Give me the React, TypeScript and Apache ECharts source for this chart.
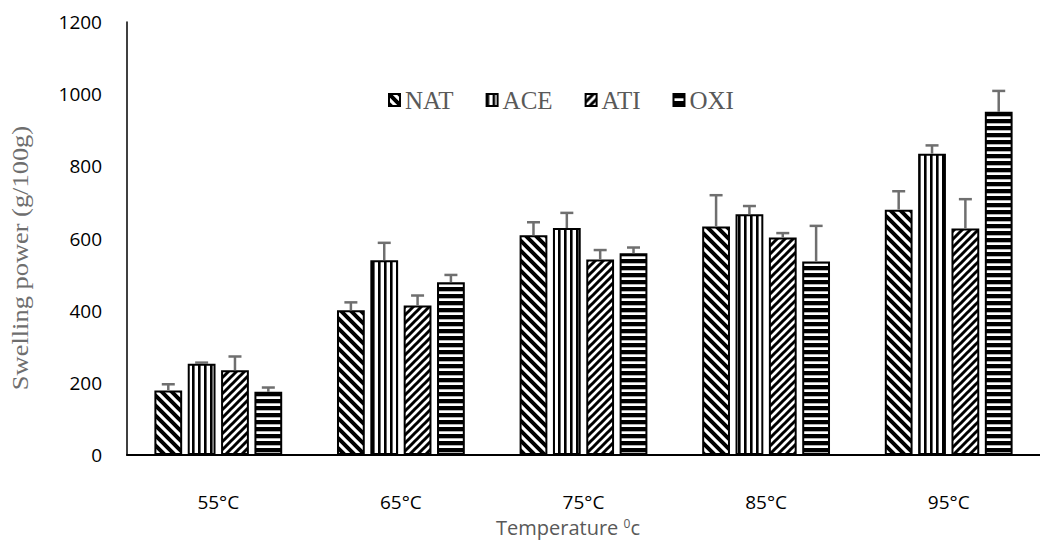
import React, { useEffect, useRef } from "react";
import * as echarts from "echarts";

const categories = ["55°C", "65°C", "75°C", "85°C", "95°C"];
const seriesNames = ["NAT", "ACE", "ATI", "OXI"];
const natValues = [179, 401, 609, 633, 680];
const aceValues = [253, 540, 629, 667, 835];
const atiValues = [235, 414, 542, 603, 628];
const oxiValues = [175, 479, 559, 536, 951];
const natErrors = [17, 22, 36, 87, 51];
const aceErrors = [3, 48, 42, 23, 23];
const atiErrors = [38, 28, 26, 12, 81];
const oxiErrors = [12, 20, 16, 99, 58];
const yTicks = { min: 0, max: 1200, interval: 200 };

type Kind = "back" | "vert" | "fwd" | "horiz";

function makePattern(kind: Kind) {
  const c = document.createElement("canvas");
  let w = 10;
  let h = 10;
  if (kind === "back") { w = 10; h = 10; }
  if (kind === "fwd") { w = 8; h = 8; }
  if (kind === "vert") { w = 6; h = 6; }
  if (kind === "horiz") { w = 7; h = 7; }
  c.width = w;
  c.height = h;
  const ctx = c.getContext("2d")!;
  ctx.fillStyle = "#fff";
  ctx.fillRect(0, 0, w, h);
  ctx.strokeStyle = "#000";
  ctx.fillStyle = "#000";
  if (kind === "back") {
    ctx.lineWidth = 4;
    ctx.beginPath();
    for (const off of [-w, 0, w]) {
      ctx.moveTo(off - 2, -2);
      ctx.lineTo(off + w + 2, h + 2);
    }
    ctx.stroke();
  } else if (kind === "fwd") {
    ctx.lineWidth = 3;
    ctx.beginPath();
    for (const off of [-w, 0, w]) {
      ctx.moveTo(off - 2, h + 2);
      ctx.lineTo(off + w + 2, -2);
    }
    ctx.stroke();
  } else if (kind === "vert") {
    ctx.fillRect(0, 0, 2.6, h);
  } else {
    ctx.fillRect(0, 0, w, 4.3);
  }
  return { image: c, repeat: "repeat" as const, imageWidth: w, imageHeight: h };
}

export default function App() {
  const ref = useRef<HTMLDivElement>(null);
  useEffect(() => {
    if (!ref.current) return;
    const chart = echarts.init(ref.current, null, { renderer: "svg" });
    const kinds: Kind[] = ["back", "vert", "fwd", "horiz"];
    const values = [natValues, aceValues, atiValues, oxiValues];
    const errors = [natErrors, aceErrors, atiErrors, oxiErrors];

    const barSeries = seriesNames.map((name, i) => ({
      name,
      type: "bar",
      data: values[i],
      barCategoryGap: "30%",
      barGap: "20%",
      itemStyle: {
        color: makePattern(kinds[i]) as any,
        borderColor: "#000",
        borderWidth: 2,
      },
    }));

    const errData: number[][] = [];
    seriesNames.forEach((_, si) => {
      categories.forEach((_, ci) => {
        errData.push([ci, si, values[si][ci], errors[si][ci]]);
      });
    });

    const option: any = {
      animation: false,
      grid: { left: 127, right: -12, top: 22, bottom: 86, containLabel: false },
      legend: {
        data: seriesNames,
        left: 383,
        top: 82,
        itemWidth: 11,
        itemHeight: 12,
        itemGap: 32,
        icon: "rect",
        itemStyle: { borderColor: "#000", borderWidth: 2 },
        textStyle: {
          fontFamily: "Liberation Serif",
          fontSize: 25,
          color: "#595959",
          lineHeight: 26,
        },
      },
      xAxis: {
        type: "category",
        data: categories,
        axisLine: { show: true, lineStyle: { color: "#000", width: 2 } },
        axisTick: { show: false },
        axisLabel: {
          margin: 37,
          fontFamily: "Open Sans",
          fontSize: 19,
          lineHeight: 20,
          color: "#000",
        },
      },
      yAxis: {
        type: "value",
        min: yTicks.min,
        max: yTicks.max,
        interval: yTicks.interval,
        axisLine: { show: true, lineStyle: { color: "#000", width: 1.5 } },
        axisTick: { show: false },
        splitLine: { show: false },
        axisLabel: {
          margin: 25,
          fontFamily: "Open Sans",
          fontSize: 19,
          color: "#000",
          formatter: (v: number) => String(v),
        },
      },
      graphic: [
        {
          type: "text",
          x: 20,
          y: 258,
          rotation: Math.PI / 2,
          scaleX: 1.15,
          style: {
            text: "Swelling power (g/100g)",
            font: '23px "Liberation Serif"',
            fill: "#6e6e6e",
            align: "center",
            verticalAlign: "middle",
          },
        },
        {
          type: "text",
          x: 568,
          y: 527,
          style: {
            text: "Temperature {sup|0}c",
            align: "center",
            verticalAlign: "middle",
            font: '20px "Open Sans"',
            fill: "#595959",
            lineHeight: 20,
            rich: {
              sup: {
                fontSize: 12,
                fontFamily: "Open Sans",
                fill: "#595959",
                verticalAlign: "top",
                lineHeight: 20,
              },
            },
          },
        },
      ],
      series: [
        ...barSeries,
        {
          type: "custom",
          name: "err",
          coordinateSystem: "cartesian2d",
          encode: { x: 0, y: 2 },
          z: 5,
          data: errData,
          renderItem: (params: any, api: any) => {
            const ci = api.value(0);
            const si = api.value(1);
            const v = api.value(2);
            const e = api.value(3);
            const band = api.size([1, 0])[0];
            const bw = (band * 0.7) / 4.6;
            const step = bw * 1.2;
            const base = api.coord([ci, v]);
            const top = api.coord([ci, v + e]);
            const x = base[0] + (si - 1.5) * step;
            const cap = 6.5;
            const st = { stroke: "#6f6f6f", lineWidth: 2.5 };
            return {
              type: "group",
              children: [
                { type: "line", shape: { x1: x, y1: base[1], x2: x, y2: top[1] }, style: st },
                { type: "line", shape: { x1: x - cap, y1: top[1], x2: x + cap, y2: top[1] }, style: st },
              ],
            };
          },
        },
      ],
    };
    chart.setOption(option);
    return () => chart.dispose();
  }, []);
  return (
    <div
      ref={ref}
      style={{ position: "absolute", left: 0, top: 0, width: 1040, height: 541, background: "#fff" }}
    />
  );
}
